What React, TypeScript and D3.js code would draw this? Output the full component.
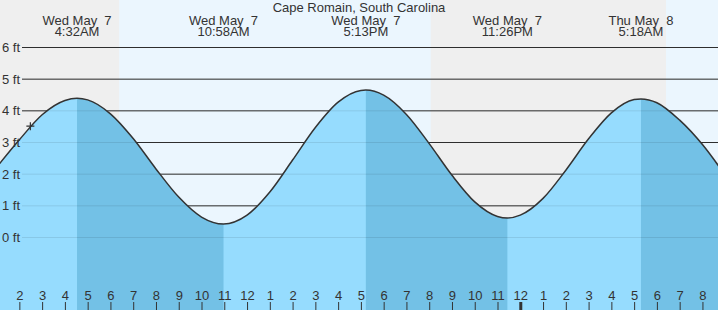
import React from "react";
import * as d3 from "d3";

// station + window
const stationName = "Cape Romain, South Carolina";
const viewStart = "2025-05-07T01:09";
const viewEnd = "2025-05-08T08:41";

// high / low tide events
const extremeTimes = ["2025-05-07T04:32", "2025-05-07T10:58", "2025-05-07T17:13", "2025-05-07T23:26", "2025-05-08T05:18"];
const extremeFeet = [4.38, 0.41, 4.64, 0.6, 4.36];
const extremeKind = ["high", "low", "high", "low", "high"];

// hourly heights
const hourlyTimes = [
  "2025-05-07T01:00", "2025-05-07T02:00", "2025-05-07T03:00", "2025-05-07T04:00",
  "2025-05-07T05:00", "2025-05-07T06:00", "2025-05-07T07:00", "2025-05-07T08:00",
  "2025-05-07T09:00", "2025-05-07T10:00", "2025-05-07T12:00", "2025-05-07T13:00",
  "2025-05-07T14:00", "2025-05-07T15:00", "2025-05-07T16:00", "2025-05-07T17:00",
  "2025-05-07T18:00", "2025-05-07T19:00", "2025-05-07T20:00", "2025-05-07T21:00",
  "2025-05-07T22:00", "2025-05-07T23:00", "2025-05-08T00:00", "2025-05-08T01:00",
  "2025-05-08T02:00", "2025-05-08T03:00", "2025-05-08T04:00", "2025-05-08T05:00",
  "2025-05-08T06:00", "2025-05-08T07:00", "2025-05-08T08:00", "2025-05-08T09:00",
];
const hourlyFeet = [
  2.2, 3.07, 3.86, 4.31,
  4.33, 3.89, 3.11, 2.15,
  1.26, 0.63, 0.69, 1.42,
  2.43, 3.46, 4.26, 4.63,
  4.48, 3.87, 2.95, 1.95,
  1.11, 0.65, 0.69, 1.22,
  2.11, 3.1, 3.92, 4.34,
  4.24, 3.69, 2.92, 1.95,
];

// daylight
const sunriseTimes = ["2025-05-07T06:23", "2025-05-08T06:24"];
const sunsetTimes = ["2025-05-07T20:04", "2025-05-08T20:05"];

// "now" marker
const nowTime = "2025-05-07T02:29";
const nowFeet = 3.5;

const feetTicks = [0, 1, 2, 3, 4, 5, 6];

const W = 718;
const H = 310;
const FONT = "'Liberation Sans', Arial, sans-serif";
const INK = "#333";

const parse = d3.utcParse("%Y-%m-%dT%H:%M");

export default function App() {
  const svgRef = React.useRef(null);

  React.useEffect(() => {
    const x = d3.scaleUtc().domain([parse(viewStart), parse(viewEnd)]).range([0, W]);
    const y = d3.scaleLinear().domain([0, 6]).range([237, 47]);

    const points = hourlyTimes
      .map((t, i) => ({ t: parse(t), v: hourlyFeet[i] }))
      .concat(extremeTimes.map((t, i) => ({ t: parse(t), v: extremeFeet[i] })))
      .sort((a, b) => a.t - b.t);

    const svgEl = d3.select(svgRef.current);
    svgEl.selectAll("*").remove();

    // night / day background
    svgEl.append("rect").attr("width", W).attr("height", H).attr("fill", "#efefef");
    svgEl
      .selectAll(".day")
      .data(sunriseTimes)
      .enter()
      .append("rect")
      .attr("x", (d) => x(parse(d)))
      .attr("y", 0)
      .attr("width", (d, i) => Math.min(W, x(parse(sunsetTimes[i]))) - x(parse(d)))
      .attr("height", H)
      .attr("fill", "#ebf6fe");

    // grid lines
    const grid = (cls, stroke) =>
      svgEl
        .append("g")
        .selectAll("line")
        .data(feetTicks)
        .enter()
        .append("line")
        .attr("class", cls)
        .attr("x1", 22)
        .attr("x2", W)
        .attr("y1", (d) => y(d) + 0.5)
        .attr("y2", (d) => y(d) + 0.5)
        .attr("stroke", stroke)
        .attr("stroke-width", 1);
    grid("grid", INK);

    // water
    const area = d3
      .area()
      .x((d) => x(d.t))
      .y0(H)
      .y1((d) => y(d.v))
      .curve(d3.curveMonotoneX);
    const line = d3
      .line()
      .x((d) => x(d.t))
      .y((d) => y(d.v))
      .curve(d3.curveMonotoneX);

    svgEl.append("path").attr("d", area(points)).attr("fill", "#96dcfe");

    // falling tide = from each high to the next low
    const falling = extremeTimes
      .map((t, i) => ({ t, i }))
      .filter((d) => extremeKind[d.i] === "high")
      .map((d) => ({
        from: x(parse(d.t)),
        to: d.i + 1 < extremeTimes.length ? x(parse(extremeTimes[d.i + 1])) : W,
      }));
    const clip = svgEl.append("clipPath").attr("id", "falling");
    clip
      .selectAll("rect")
      .data(falling)
      .enter()
      .append("rect")
      .attr("x", (d) => d.from)
      .attr("y", 0)
      .attr("width", (d) => d.to - d.from)
      .attr("height", H);
    svgEl
      .append("path")
      .attr("d", area(points))
      .attr("fill", "#73c1e6")
      .attr("clip-path", "url(#falling)");

    grid("faint", "rgba(0,0,0,0.09)");

    svgEl
      .append("path")
      .attr("d", line(points))
      .attr("fill", "none")
      .attr("stroke", INK)
      .attr("stroke-width", 1.5);

    // height labels
    svgEl
      .append("g")
      .selectAll("text")
      .data(feetTicks)
      .enter()
      .append("text")
      .attr("x", 2)
      .attr("y", (d) => y(d) + 5)
      .attr("font-family", FONT)
      .attr("font-size", 13)
      .attr("fill", INK)
      .text((d) => `${d} ft`);

    // now marker
    const nx = x(parse(nowTime));
    const ny = y(nowFeet);
    svgEl
      .append("path")
      .attr("d", `M${nx - 4},${ny}H${nx + 4}M${nx},${ny - 4}V${ny + 4}`)
      .attr("stroke", INK)
      .attr("stroke-width", 1.2);

    // hour axis
    const xAxis = d3
      .axisTop(x)
      .ticks(d3.utcHour.every(1))
      .tickSize(8)
      .tickPadding(2)
      .tickFormat(d3.utcFormat("%-I"));
    const xAxisGroup = svgEl.append("g").attr("transform", `translate(0,${H})`).call(xAxis);
    xAxisGroup.select(".domain").remove();
    xAxisGroup.selectAll("line").attr("stroke", INK);
    xAxisGroup
      .selectAll(".tick")
      .filter((d) => d.getUTCHours() === 0)
      .select("line")
      .attr("stroke-width", 3);
    xAxisGroup
      .selectAll("text")
      .attr("fill", INK)
      .attr("font-family", FONT)
      .attr("font-size", 13);

    // event labels
    const dayFmt = d3.utcFormat("%a %b %e");
    const timeFmt = d3.utcFormat("%-I:%M%p");
    const labels = svgEl
      .append("g")
      .selectAll("g")
      .data(extremeTimes)
      .enter()
      .append("g")
      .attr("transform", (d) => `translate(${x(parse(d))},0)`);
    labels
      .append("text")
      .attr("y", 24.5)
      .text((d) => dayFmt(parse(d)));
    labels
      .append("text")
      .attr("y", 36)
      .text((d) => timeFmt(parse(d)));
    labels
      .selectAll("text")
      .attr("text-anchor", "middle")
      .attr("font-family", FONT)
      .attr("font-size", 13)
      .attr("fill", INK)
      .style("white-space", "pre");

    svgEl
      .append("text")
      .attr("x", W / 2)
      .attr("y", 12)
      .attr("text-anchor", "middle")
      .attr("font-family", FONT)
      .attr("font-size", 13)
      .attr("fill", INK)
      .text(stationName);
  }, []);

  return (
    <svg
      ref={svgRef}
      width={W}
      height={H}
      style={{ position: "absolute", left: 0, top: 0, display: "block" }}
    />
  );
}
